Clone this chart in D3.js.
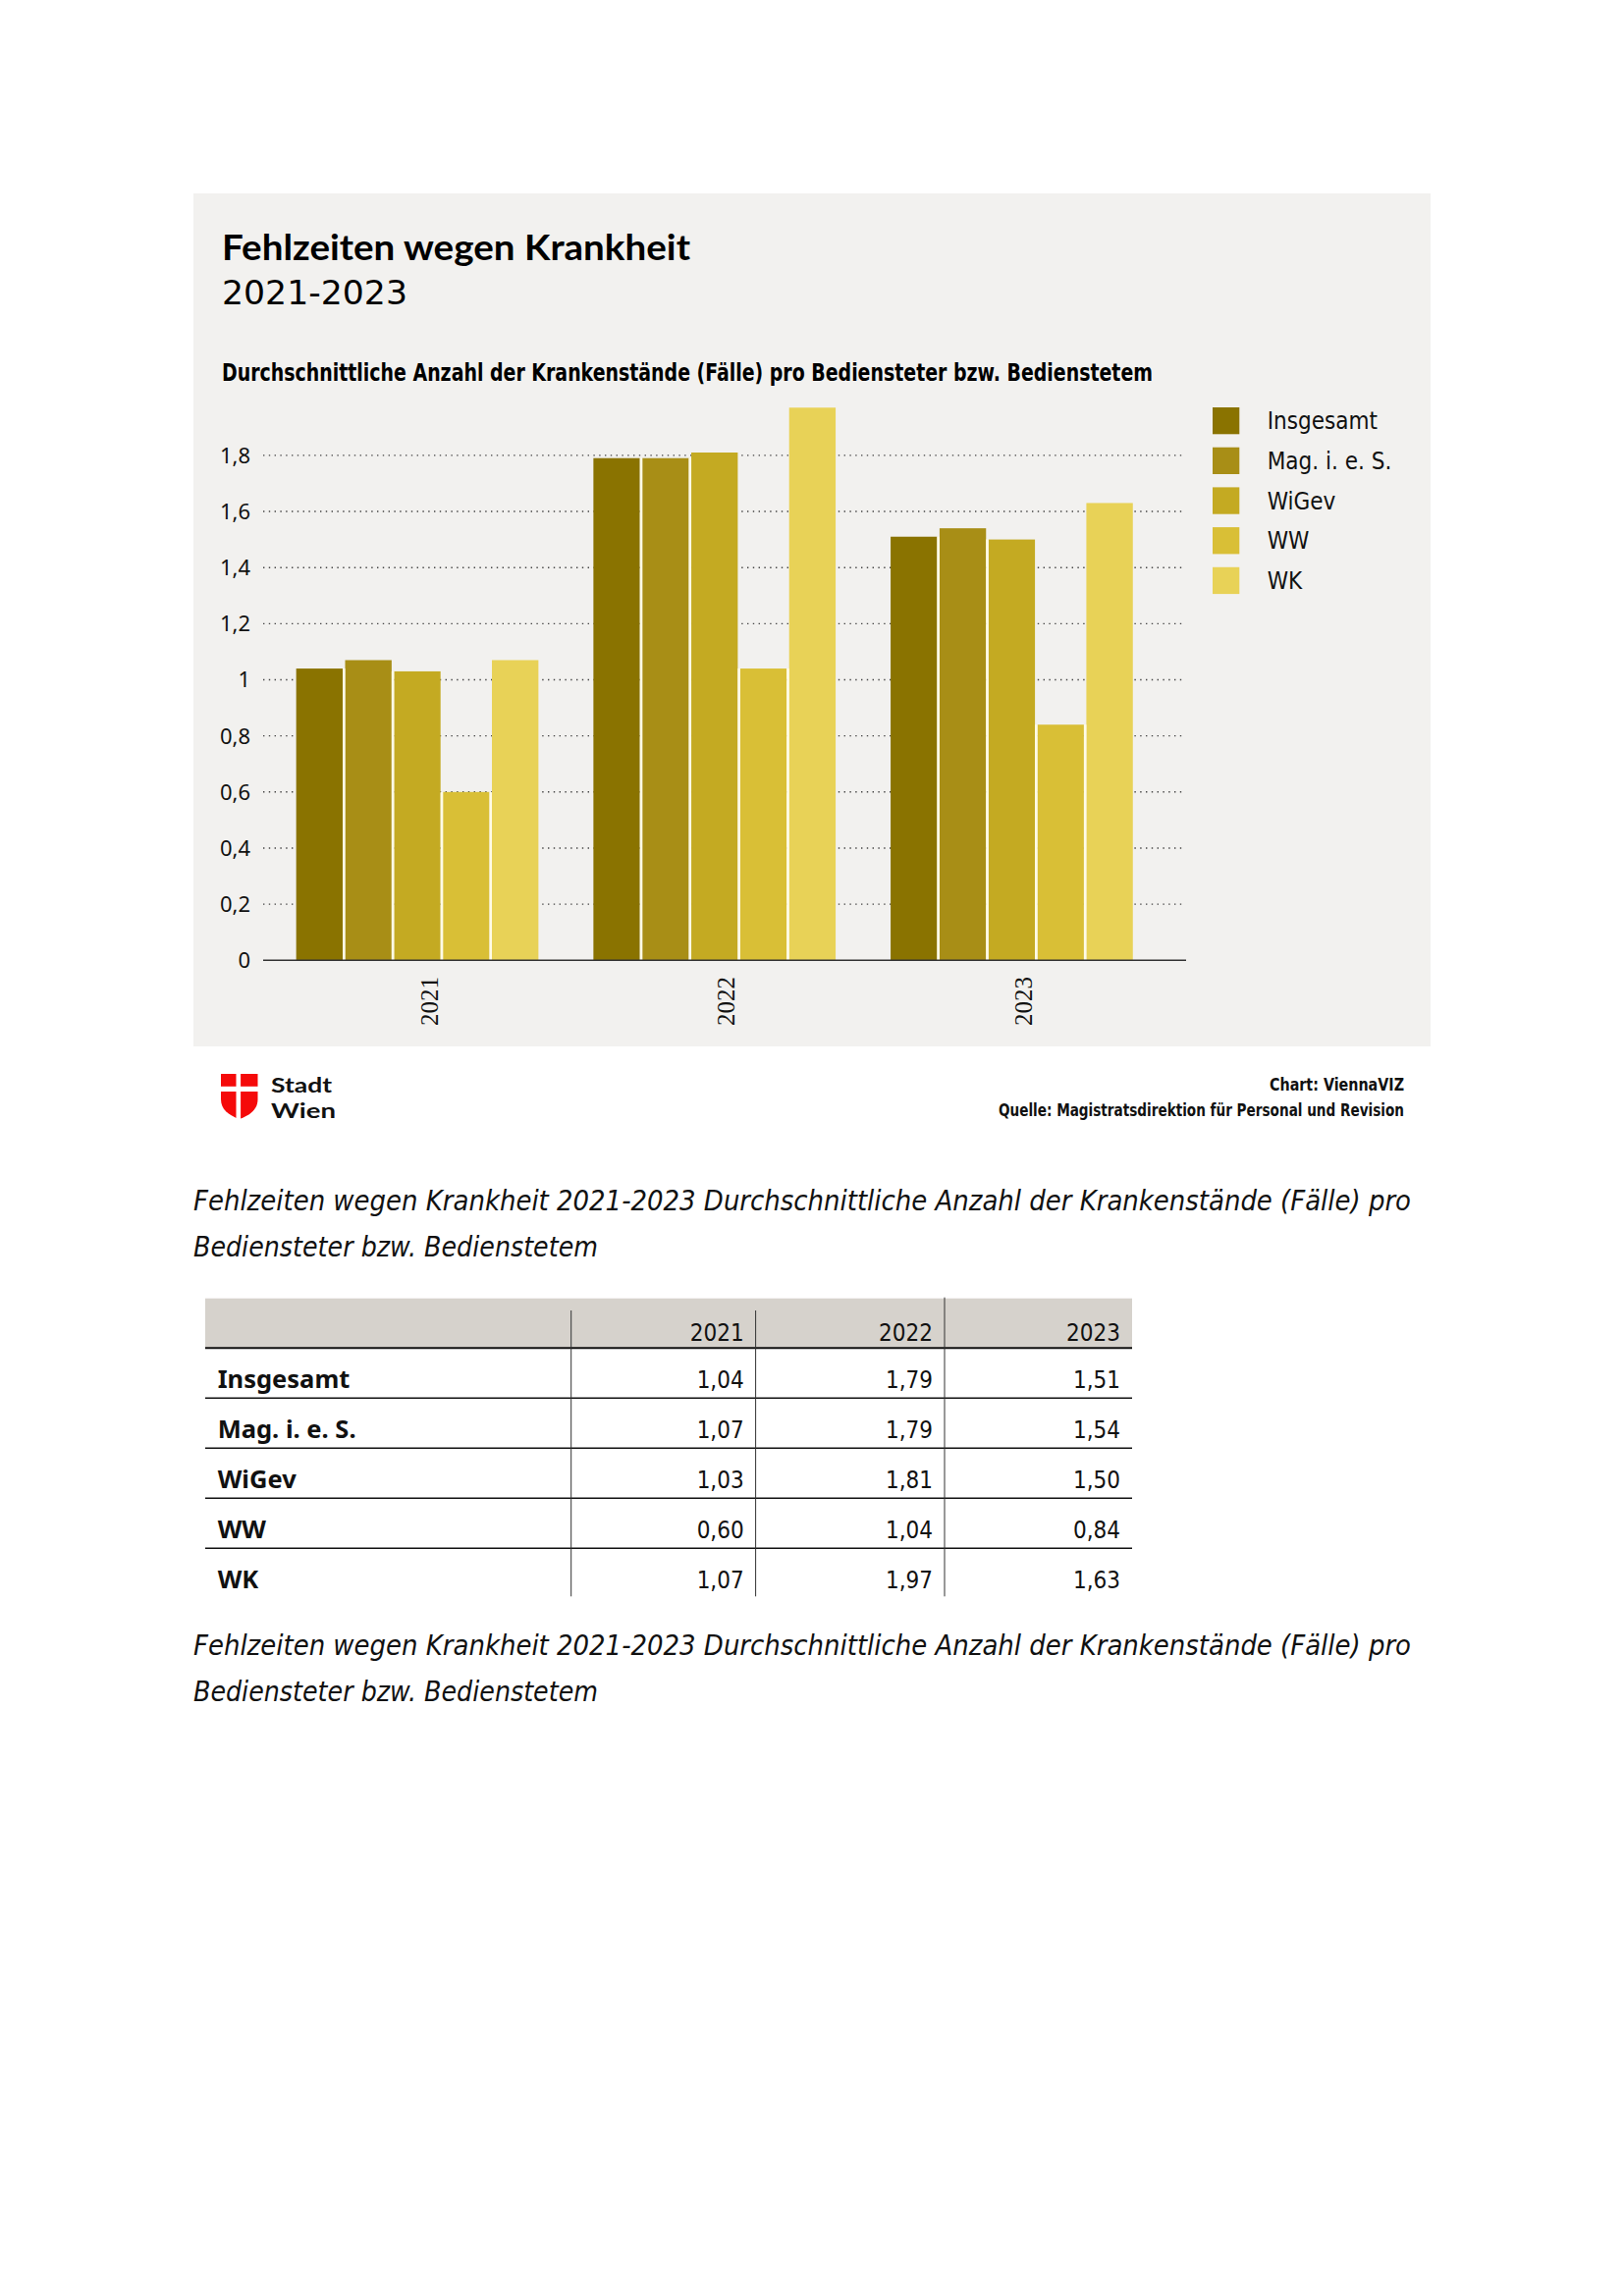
<!DOCTYPE html>
<html><head><meta charset="utf-8">
<script src="https://cdn.jsdelivr.net/npm/d3@7"></script>
<style>
html,body{margin:0;padding:0;background:#fff;}
svg{display:block;}
</style></head>
<body>
<script>
// ---------- data ----------
const years = ["2021", "2022", "2023"];
const seriesNames = ["Insgesamt", "Mag. i. e. S.", "WiGev", "WW", "WK"];
const insgesamt = [1.04, 1.79, 1.51];
const magIeS    = [1.07, 1.79, 1.54];
const wiGev     = [1.03, 1.81, 1.50];
const ww        = [0.60, 1.04, 0.84];
const wk        = [1.07, 1.97, 1.63];
const seriesValues = [insgesamt, magIeS, wiGev, ww, wk];
const seriesColors = ["#8a7300", "#a88e16", "#c4aa22", "#d9bf36", "#e8d257"];
const yTicks = [0, 0.2, 0.4, 0.6, 0.8, 1, 1.2, 1.4, 1.6, 1.8];

const titleText = "Fehlzeiten wegen Krankheit";
const yearsText = "2021-2023";
const subtitleText = "Durchschnittliche Anzahl der Krankenstände (Fälle) pro Bediensteter bzw. Bedienstetem";
const captionLine1 = "Fehlzeiten wegen Krankheit 2021-2023 Durchschnittliche Anzahl der Krankenstände (Fälle) pro";
const captionLine2 = "Bediensteter bzw. Bedienstetem";
const creditText = "Chart: ViennaVIZ";
const sourceText = "Quelle: Magistratsdirektion für Personal und Revision";
const logoLines = ["Stadt", "Wien"];

const fmt = v => String(Math.round(v * 10) / 10).replace(".", ",");
const fmt2 = v => v.toFixed(2).replace(".", ",");

const COND = "'DejaVu Sans Condensed','Noto Sans',sans-serif";

const svg = d3.select("body").append("svg")
  .attr("width", 1654).attr("height", 2339);

// panel
svg.append("rect").attr("x", 197).attr("y", 197).attr("width", 1260).attr("height", 869)
  .attr("fill", "#f2f1ef");

// titles
svg.append("text").attr("x", 226).attr("y", 265).text(titleText)
  .attr("font-family", "Lato, 'Noto Sans', sans-serif").attr("font-weight", 700)
  .attr("font-size", 36).attr("fill", "#000")
  .attr("textLength", 477).attr("lengthAdjust", "spacingAndGlyphs");
svg.append("text").attr("x", 226).attr("y", 310).text(yearsText)
  .attr("font-family", "'DejaVu Sans', sans-serif").attr("font-weight", 400)
  .attr("font-size", 34).attr("fill", "#000")
  .attr("textLength", 189).attr("lengthAdjust", "spacingAndGlyphs");
svg.append("text").attr("x", 226).attr("y", 388).text(subtitleText)
  .attr("font-family", COND).attr("font-weight", 700)
  .attr("font-size", 25).attr("fill", "#000")
  .attr("textLength", 948).attr("lengthAdjust", "spacingAndGlyphs");

// scales
const x0 = d3.scaleBand().domain(years).range([268, 1208])
  .paddingInner(0.185).paddingOuter(0.1452).align(0.383);
const x1 = d3.scaleBand().domain(seriesNames).range([0, x0.bandwidth()]).paddingInner(0.05).paddingOuter(0);
const y = d3.scaleLinear().domain([0, 2]).range([978.3, 406.7]);

// gridlines
const gridG = svg.append("g");
gridG.selectAll("line").data(yTicks.filter(d => d > 0)).join("line")
  .attr("x1", 268).attr("x2", 1206)
  .attr("y1", d => y(d)).attr("y2", d => y(d))
  .attr("stroke", "#444").attr("stroke-width", 1.4).attr("stroke-dasharray", "1.4,4.4");

// y axis labels via d3 axis
const yAxis = d3.axisLeft(y).tickValues(yTicks).tickFormat(fmt).tickSize(0).tickPadding(0);
const yG = svg.append("g").attr("transform", "translate(255,0)").call(yAxis);
yG.select(".domain").remove();
yG.selectAll("text").attr("font-family", "'Noto Sans', sans-serif").attr("font-size", 22)
  .attr("fill", "#111").attr("dy", "0.34em");

// bars
const groups = svg.append("g").selectAll("g").data(years).join("g")
  .attr("transform", d => `translate(${x0(d)},0)`);
groups.selectAll("rect")
  .data((d, yi) => seriesNames.map((s, si) => ({ s, v: seriesValues[si][yi], c: seriesColors[si] })))
  .join("rect")
  .attr("x", d => x1(d.s)).attr("width", x1.bandwidth())
  .attr("y", d => y(d.v)).attr("height", d => y(0) - y(d.v))
  .attr("fill", d => d.c);
// light separators between bars
groups.selectAll("line.sep")
  .data(seriesNames.slice(1))
  .join("line").attr("class", "sep")
  .attr("x1", d => x1(d) - x1.step() * x1.paddingInner() / 2)
  .attr("x2", d => x1(d) - x1.step() * x1.paddingInner() / 2)
  .attr("y1", (d, i, n) => {
    const yi = years.indexOf(d3.select(n[i].parentNode).datum());
    const si = seriesNames.indexOf(d);
    return y(Math.min(seriesValues[si][yi], seriesValues[si - 1][yi]));
  })
  .attr("y2", y(0))
  .attr("stroke", "#fffbe6").attr("stroke-width", x1.step() * x1.paddingInner());

// baseline
svg.append("line").attr("x1", 268).attr("x2", 1208).attr("y1", y(0)).attr("y2", y(0))
  .attr("stroke", "#333").attr("stroke-width", 1.5);

// x labels
const xAxis = d3.axisBottom(x0).tickSize(0).tickPadding(0);
const xG = svg.append("g").attr("transform", `translate(0,${y(0)})`).call(xAxis);
xG.select(".domain").remove();
xG.selectAll(".tick text")
  .attr("transform", "translate(20.7,16.7) rotate(-90)")
  .attr("text-anchor", "end").attr("x", 0).attr("y", 0).attr("dy", 0)
  .attr("font-family", "'Liberation Serif', 'DejaVu Serif', serif")
  .attr("font-size", 25).attr("fill", "#111");

// legend
const leg = svg.append("g").selectAll("g").data(seriesNames).join("g")
  .attr("transform", (d, i) => `translate(1235,${415 + i * 40.7})`);
leg.append("rect").attr("width", 27.3).attr("height", 27.3).attr("fill", (d, i) => seriesColors[i]);
leg.append("text").attr("x", 55.7).attr("y", 22.3).text(d => d)
  .attr("font-family", "'DejaVu Sans Condensed', sans-serif").attr("font-size", 24).attr("fill", "#111");

// footer: logo
const logo = svg.append("g").attr("transform", "translate(225,1094)");
logo.append("path")
  .attr("d", "M0,0 H37.5 V26 C37.5,36 30,42 18.75,46 C7.5,42 0,36 0,26 Z")
  .attr("fill", "#f50a0a");
logo.append("rect").attr("x", 15.5).attr("y", -1).attr("width", 4.6).attr("height", 48).attr("fill", "#fff");
logo.append("rect").attr("x", -1).attr("y", 12.8).attr("width", 40).attr("height", 5.2).attr("fill", "#fff");
svg.selectAll(".logoTxt").data(logoLines).join("text").attr("class", "logoTxt")
  .attr("x", 276).attr("y", (d, i) => 1112.5 + i * 26.5).text(d => d)
  .attr("font-family", "Lato, 'Noto Sans', sans-serif").attr("font-weight", 700)
  .attr("font-size", 21.5).attr("fill", "#111")
  .attr("textLength", (d, i) => i === 0 ? 62 : 66).attr("lengthAdjust", "spacingAndGlyphs");

// footer right
svg.append("text").attr("x", 1430).attr("y", 1111).attr("text-anchor", "end").text(creditText)
  .attr("font-family", COND).attr("font-weight", 700).attr("font-size", 18).attr("fill", "#111")
  .attr("textLength", 137).attr("lengthAdjust", "spacingAndGlyphs");
svg.append("text").attr("x", 1430).attr("y", 1137).attr("text-anchor", "end").text(sourceText)
  .attr("font-family", COND).attr("font-weight", 700).attr("font-size", 18).attr("fill", "#111")
  .attr("textLength", 413).attr("lengthAdjust", "spacingAndGlyphs");

// captions
function caption(y1, y2) {
  svg.append("text").attr("x", 197).attr("y", y1).text(captionLine1)
    .attr("font-family", COND).attr("font-style", "italic").attr("font-size", 29).attr("fill", "#111")
    .attr("textLength", 1240).attr("lengthAdjust", "spacingAndGlyphs");
  svg.append("text").attr("x", 197).attr("y", y2).text(captionLine2)
    .attr("font-family", COND).attr("font-style", "italic").attr("font-size", 29).attr("fill", "#111")
    .attr("textLength", 412).attr("lengthAdjust", "spacingAndGlyphs");
}
caption(1233, 1280);
caption(1686, 1733);

// table
const tableTop = 1322.7, headBottom = 1373.3, rowH = 51;
const colDiv = [581.7, 769.6, 962];
const colRight = [757.7, 950, 1141];
svg.append("rect").attr("x", 209).attr("y", tableTop).attr("width", 944).attr("height", headBottom - tableTop)
  .attr("fill", "#d6d2cc");
svg.selectAll(".hdr").data(years).join("text").attr("class", "hdr")
  .attr("x", (d, i) => colRight[i]).attr("y", 1366).attr("text-anchor", "end").text(d => d)
  .attr("font-family", "'DejaVu Sans Condensed', sans-serif").attr("font-size", 24).attr("fill", "#111");
svg.append("line").attr("x1", 209).attr("x2", 1153).attr("y1", headBottom).attr("y2", headBottom)
  .attr("stroke", "#111").attr("stroke-width", 2);
const rows = svg.append("g").selectAll("g").data(seriesNames).join("g")
  .attr("transform", (d, i) => `translate(0,${headBottom + i * rowH})`);
rows.filter((d, i) => i < seriesNames.length - 1).append("line")
  .attr("x1", 209).attr("x2", 1153).attr("y1", rowH).attr("y2", rowH)
  .attr("stroke", "#111").attr("stroke-width", 1.5);
rows.append("text").attr("x", 221.7).attr("y", 41).text(d => d)
  .attr("font-family", "'Noto Sans', sans-serif").attr("font-weight", 700).attr("font-size", 25.5).attr("fill", "#111");
rows.each(function (d, si) {
  d3.select(this).selectAll(".val").data(seriesValues[si]).join("text").attr("class", "val")
    .attr("x", (v, yi) => colRight[yi]).attr("y", 41).attr("text-anchor", "end").text(fmt2)
    .attr("font-family", "'DejaVu Sans Condensed', sans-serif").attr("font-size", 24).attr("fill", "#111");
});
svg.selectAll(".div").data(colDiv).join("line").attr("class", "div")
  .attr("x1", d => d).attr("x2", d => d)
  .attr("y1", (d, i) => i === 2 ? tableTop - 1 : 1335).attr("y2", headBottom + rowH * seriesNames.length - 2)
  .attr("stroke", "#333").attr("stroke-width", 1);
</script>
</body></html>
